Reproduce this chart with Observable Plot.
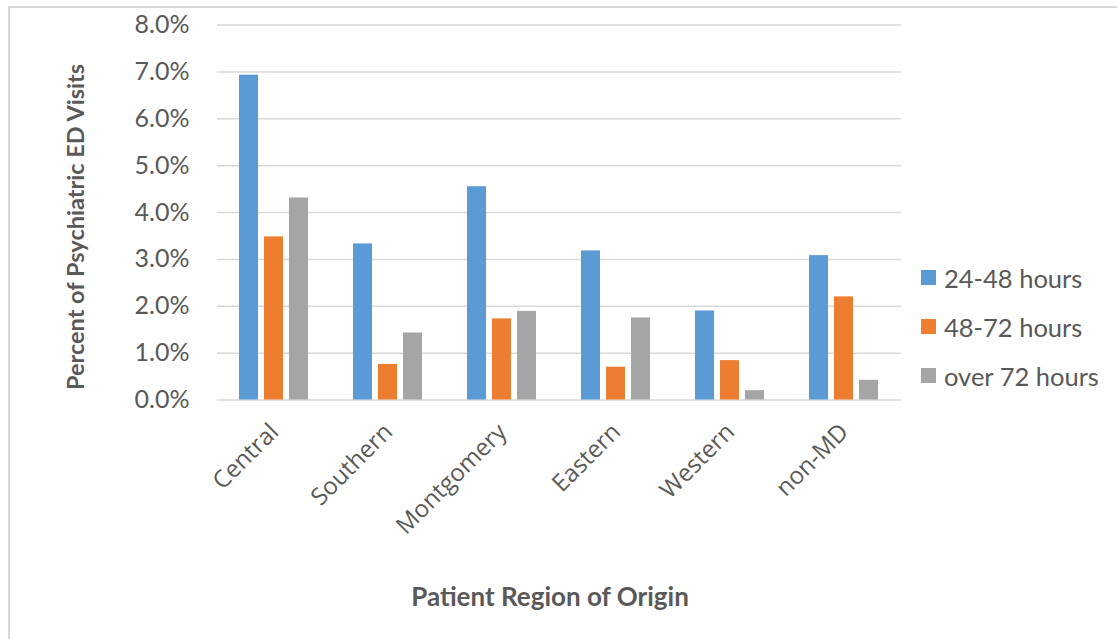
<!DOCTYPE html>
<html>
<head>
<meta charset="utf-8">
<script src="https://cdn.jsdelivr.net/npm/d3@7"></script>
<script src="https://cdn.jsdelivr.net/npm/@observablehq/plot@0.6"></script>
<style>
  html, body { margin: 0; padding: 0; background: #fff; overflow: hidden; width: 1117px; height: 639px; }
  #wrap { position: relative; width: 1117px; height: 639px; font-family: Lato, "Open Sans", sans-serif; color: #595959; }
  #frame { position: absolute; left: 8px; top: 6px; width: 1300px; height: 800px; border: 2px solid #d9d9d9; box-sizing: border-box; }
  #chart { position: absolute; left: 0; top: 0; }
  #ytitle { position: absolute; left: 75px; top: 227px; transform: translate(-50%, -50%) rotate(-90deg); white-space: nowrap; font-weight: bold; font-size: 23.5px; }
  #xtitle { position: absolute; left: 550px; top: 596px; transform: translate(-50%, -50%); white-space: nowrap; font-weight: bold; font-size: 26px; }
  #legend { position: absolute; left: 921px; top: 253px; }
  .sw { display: flex; align-items: center; height: 49px; font-size: 25.5px; white-space: nowrap; }
  .sw i { display: inline-block; width: 15px; height: 15px; margin-right: 8px; }
</style>
</head>
<body>
<div id="wrap">
  <div id="frame"></div>
  <div id="chart"></div>
  <div id="ytitle"></div>
  <div id="xtitle"></div>
  <div id="legend"></div>
</div>
<script>
const regions = ["Central", "Southern", "Montgomery", "Eastern", "Western", "non-MD"];
const seriesNames = ["24-48 hours", "48-72 hours", "over 72 hours"];
const seriesColors = ["#5B9BD5", "#ED7D31", "#A5A5A5"];
const stay24to48 = [6.93, 3.33, 4.55, 3.18, 1.90, 3.08];
const stay48to72 = [3.48, 0.76, 1.73, 0.70, 0.84, 2.20];
const stayOver72 = [4.31, 1.43, 1.89, 1.75, 0.20, 0.42];
const yTicks = [0, 1, 2, 3, 4, 5, 6, 7, 8];
const yTitle = "Percent of Psychiatric ED Visits";
const xTitle = "Patient Region of Origin";

const seriesValues = [stay24to48, stay48to72, stayOver72];
const data = [];
regions.forEach((r, i) => {
  seriesNames.forEach((s, j) => {
    data.push({region: r, series: s, value: seriesValues[j][i] / 100});
  });
});

const plot = Plot.plot({
  width: 1117,
  height: 639,
  marginLeft: 214,
  marginRight: 214,
  marginTop: 24.5,
  marginBottom: 239.5,
  style: {fontFamily: "Lato, 'Open Sans', sans-serif", color: "#595959", background: "transparent"},
  fx: {domain: regions, padding: 0, label: null},
  x: {domain: seriesNames, paddingInner: 0.227, paddingOuter: 0.865, axis: null},
  y: {domain: [0, 0.08], label: null},
  color: {domain: seriesNames, range: seriesColors},
  marks: [
    Plot.ruleY(yTicks.map(d => d / 100), {stroke: "#d9d9d9", strokeWidth: 1.5}),
    Plot.barY(data, {fx: "region", x: "series", y: "value", fill: "series"}),
    Plot.axisY(yTicks.map(d => d / 100), {tickFormat: d3.format(".1%"), tickSize: 0, tickPadding: 28, fontSize: 25, label: null, fill: "#595959"}),
    Plot.axisFx({anchor: "bottom", tickRotate: -45, tickSize: 0, tickPadding: 28, fontSize: 24, label: null, fill: "#595959", fontFamily: "'Open Sans', sans-serif"})
  ]
});
document.getElementById("chart").appendChild(plot);
document.getElementById("ytitle").textContent = yTitle;
document.getElementById("xtitle").textContent = xTitle;
const lg = document.getElementById("legend");
seriesNames.forEach((s, j) => {
  const row = document.createElement("div");
  row.className = "sw";
  const sw = document.createElement("i");
  sw.style.background = seriesColors[j];
  row.appendChild(sw);
  row.appendChild(document.createTextNode(s));
  lg.appendChild(row);
});
</script>
</body>
</html>
